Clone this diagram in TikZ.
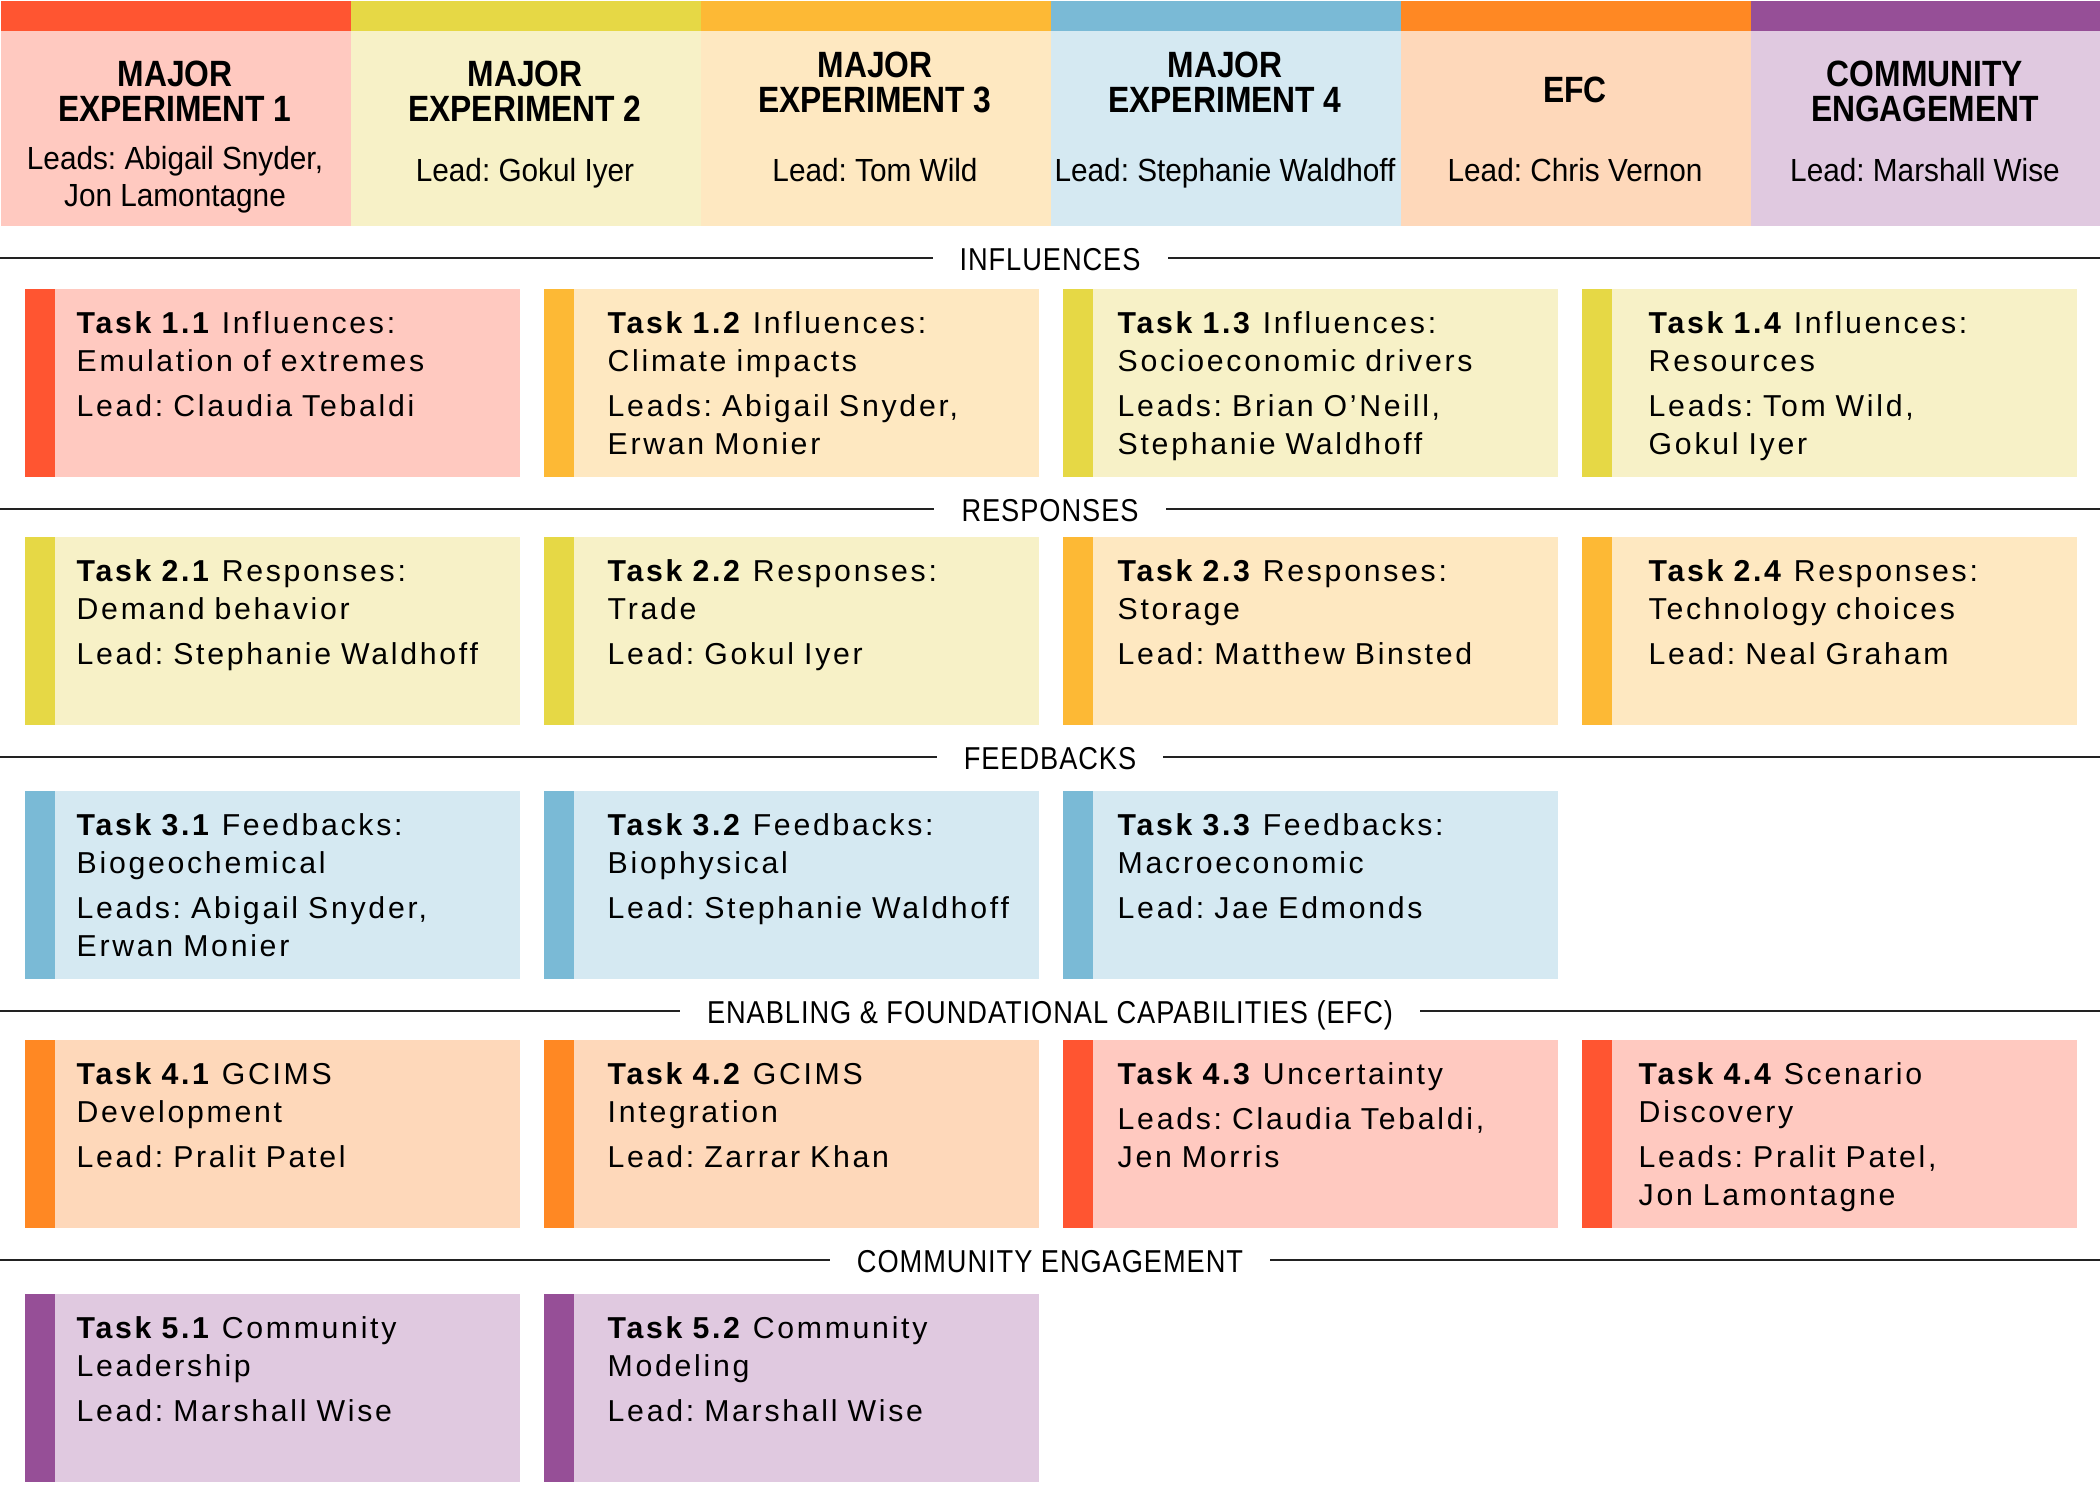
\documentclass[tikz,border=0pt]{standalone}
\usepackage{fontspec}
\setmainfont{Liberation Sans}[LetterSpace=9,WordSpace=0.9]
\newfontfamily\condfont{Liberation Sans}[FakeStretch=0.87]
\newfontfamily\leadfont{Liberation Sans}[FakeStretch=0.93]
\newfontfamily\labelfont{Liberation Sans}[FakeStretch=0.86,LetterSpace=3]
\frenchspacing

\definecolor{redbar}{HTML}{FF5531}
\definecolor{redpale}{HTML}{FFC9C0}
\definecolor{yelbar}{HTML}{E6D845}
\definecolor{yelpale}{HTML}{F7F1C7}
\definecolor{goldbar}{HTML}{FDB935}
\definecolor{goldpale}{HTML}{FEE8C1}
\definecolor{bluebar}{HTML}{7ABAD6}
\definecolor{bluepale}{HTML}{D5E9F2}
\definecolor{orgbar}{HTML}{FF8823}
\definecolor{orgpale}{HTML}{FED8BA}
\definecolor{purbar}{HTML}{964F97}
\definecolor{purpale}{HTML}{E0C9E0}
\definecolor{rulegray}{HTML}{222222}

\tikzset{
  headbar/.style={rectangle,inner sep=0,anchor=north west,minimum width=3.5cm,minimum height=0.3cm},
  headbox/.style={rectangle,inner sep=0,anchor=north west,minimum width=3.5cm,minimum height=1.95cm},
  headtitle/.style={anchor=base,align=center,inner sep=0,font=\condfont\bfseries\fontsize{10.4}{10.1}\selectfont},
  headlead/.style={anchor=base,align=center,inner sep=0,font=\leadfont\fontsize{9.1}{10.6}\selectfont},
  rule/.style={rulegray,line width=0.6pt},
  seclabel/.style={anchor=base,fill=white,inner ysep=1pt,inner xsep=0.27cm,font=\labelfont\fontsize{9}{10}\selectfont},
  taskfill/.style={rectangle,inner sep=0,anchor=north west,minimum width=4.95cm,minimum height=1.88cm},
  taskbar/.style={rectangle,inner sep=0,anchor=north west,minimum width=0.3cm,minimum height=1.88cm},
  tasktext/.style={anchor=north west,align=left,inner sep=0,font=\fontsize{8.6}{10.8}\selectfont},
}

% name, box x, box y, text indent, colour, text
\newcommand{\taskbox}[6]{%
  \node[taskfill,fill=#5pale] (#1) at (#2,#3) {};
  \node[taskbar,fill=#5bar] (#1bar) at (#1.north west) {};
  \node[tasktext] (#1txt) at ([xshift=#4*0.01cm,yshift=-0.23cm]#1.north west) {#6};
}

\begin{document}
\begin{tikzpicture}[x=0.01cm,y=-0.01cm]
  \useasboundingbox (0,0) rectangle (2100,1500);

  % header columns
  \node[headbar,fill=redbar] (bar1) at (0,0) {};
  \node[headbar,fill=yelbar] (bar2) at (350,0) {};
  \node[headbar,fill=goldbar] (bar3) at (700,0) {};
  \node[headbar,fill=bluebar] (bar4) at (1050,0) {};
  \node[headbar,fill=orgbar] (bar5) at (1400,0) {};
  \node[headbar,fill=purbar] (bar6) at (1750,0) {};
  \node[headbox,fill=redpale] (head1) at (0,30) {};
  \node[headbox,fill=yelpale] (head2) at (350,30) {};
  \node[headbox,fill=goldpale] (head3) at (700,30) {};
  \node[headbox,fill=bluepale] (head4) at (1050,30) {};
  \node[headbox,fill=orgpale] (head5) at (1400,30) {};
  \node[headbox,fill=purpale] (head6) at (1750,30) {};

  % titles sit on the baseline of their last line
  \node[headtitle] (title1) at (175,122) {MAJOR\\EXPERIMENT 1};
  \node[headtitle] (title2) at (525,122) {MAJOR\\EXPERIMENT 2};
  \node[headtitle] (title3) at (875,113) {MAJOR\\EXPERIMENT 3};
  \node[headtitle] (title4) at (1225,113) {MAJOR\\EXPERIMENT 4};
  \node[headtitle] (title5) at (1575,103) {EFC};
  \node[headtitle] (title6) at (1925,122) {COMMUNITY\\ENGAGEMENT};
  \node[headlead] (lead1) at (175,207) {Leads: Abigail Snyder,\\Jon Lamontagne};
  \node[headlead] (lead2) at (525,182) {Lead: Gokul Iyer};
  \node[headlead] (lead3) at (875,182) {Lead: Tom Wild};
  \node[headlead] (lead4) at (1225,182) {Lead: Stephanie Waldhoff};
  \node[headlead] (lead5) at (1575,182) {Lead: Chris Vernon};
  \node[headlead] (lead6) at (1925,182) {Lead: Marshall Wise};

  % section rules
  \draw[rule] (0,258) -- (2100,258);
  \node[seclabel] (influences) at (1050,270) {INFLUENCES};
  \draw[rule] (0,509) -- (2100,509);
  \node[seclabel] (responses) at (1050,521) {RESPONSES};
  \draw[rule] (0,757) -- (2100,757);
  \node[seclabel] (feedbacks) at (1050,769) {FEEDBACKS};
  \draw[rule] (0,1011) -- (2100,1011);
  \node[seclabel] (efc) at (1050,1023) {ENABLING \& FOUNDATIONAL CAPABILITIES (EFC)};
  \draw[rule] (0,1260) -- (2100,1260);
  \node[seclabel] (community) at (1050,1272) {COMMUNITY ENGAGEMENT};

  % influences
  \taskbox{t11}{24}{288}{52}{red}{\textbf{Task 1.1} Influences:\\Emulation of extremes\\[2pt]Lead: Claudia Tebaldi}
  \taskbox{t12}{543}{288}{64}{gold}{\textbf{Task 1.2} Influences:\\Climate impacts\\[2pt]Leads: Abigail Snyder,\\Erwan Monier}
  \taskbox{t13}{1062}{288}{55}{yel}{\textbf{Task 1.3} Influences:\\Socioeconomic drivers\\[2pt]Leads: Brian O'Neill,\\Stephanie Waldhoff}
  \taskbox{t14}{1581}{288}{67}{yel}{\textbf{Task 1.4} Influences:\\Resources\\[2pt]Leads: Tom Wild,\\Gokul Iyer}

  % responses
  \taskbox{t21}{24}{536}{52}{yel}{\textbf{Task 2.1} Responses:\\Demand behavior\\[2pt]Lead: Stephanie Waldhoff}
  \taskbox{t22}{543}{536}{64}{yel}{\textbf{Task 2.2} Responses:\\Trade\\[2pt]Lead: Gokul Iyer}
  \taskbox{t23}{1062}{536}{55}{gold}{\textbf{Task 2.3} Responses:\\Storage\\[2pt]Lead: Matthew Binsted}
  \taskbox{t24}{1581}{536}{67}{gold}{\textbf{Task 2.4} Responses:\\Technology choices\\[2pt]Lead: Neal Graham}

  % feedbacks
  \taskbox{t31}{24}{790}{52}{blue}{\textbf{Task 3.1} Feedbacks:\\Biogeochemical\\[2pt]Leads: Abigail Snyder,\\Erwan Monier}
  \taskbox{t32}{543}{790}{64}{blue}{\textbf{Task 3.2} Feedbacks:\\Biophysical\\[2pt]Lead: Stephanie Waldhoff}
  \taskbox{t33}{1062}{790}{55}{blue}{\textbf{Task 3.3} Feedbacks:\\Macroeconomic\\[2pt]Lead: Jae Edmonds}

  % efc
  \taskbox{t41}{24}{1039}{52}{org}{\textbf{Task 4.1} GCIMS\\Development\\[2pt]Lead: Pralit Patel}
  \taskbox{t42}{543}{1039}{64}{org}{\textbf{Task 4.2} GCIMS\\Integration\\[2pt]Lead: Zarrar Khan}
  \taskbox{t43}{1062}{1039}{55}{red}{\textbf{Task 4.3} Uncertainty\\[2pt]Leads: Claudia Tebaldi,\\Jen Morris}
  \taskbox{t44}{1581}{1039}{57}{red}{\textbf{Task 4.4} Scenario\\Discovery\\[2pt]Leads: Pralit Patel,\\Jon Lamontagne}

  % community engagement
  \taskbox{t51}{24}{1293}{52}{pur}{\textbf{Task 5.1} Community\\Leadership\\[2pt]Lead: Marshall Wise}
  \taskbox{t52}{543}{1293}{64}{pur}{\textbf{Task 5.2} Community\\Modeling\\[2pt]Lead: Marshall Wise}
\end{tikzpicture}
\end{document}
